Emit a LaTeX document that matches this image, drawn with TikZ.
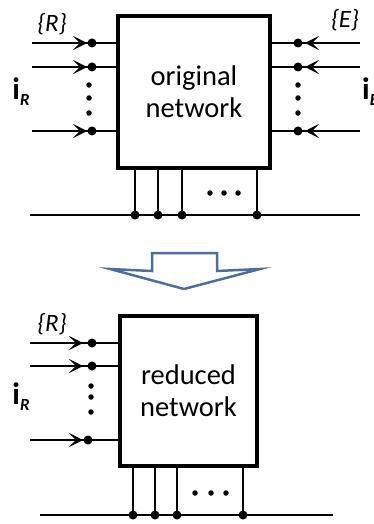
\documentclass[tikz,border=0pt]{standalone}
\usepackage{fontspec}
\setmainfont{Carlito}
\usetikzlibrary{arrows.meta}
\definecolor{arrowblue}{RGB}{74,111,160}
\tikzstyle{netbox} = [draw, line width=3.6pt, align=center, inner sep=0pt, font=\fontsize{28.5}{32}\selectfont]
\tikzstyle{junction} = [circle, minimum size=9pt, fill, inner sep=0pt]
\tikzstyle{vdot} = [circle, minimum size=5.5pt, fill, inner sep=0pt]
\tikzstyle{wire} = [line width=2.6pt]
\tikzstyle{flow} = [wire, -{Stealth[length=14pt,width=14pt,inset=7pt]}]
\tikzstyle{tag} = [inner sep=0pt, font=\fontsize{25}{28}\selectfont\itshape]
\tikzstyle{current} = [inner sep=0pt, font=\fontsize{31}{34}\selectfont\bfseries]
\newcommand{\curr}[1]{i\raisebox{-6pt}{\fontsize{17}{20}\selectfont\bfseries\itshape #1}}

\begin{document}
\begin{tikzpicture}[x=1pt, y=-1pt]
    \useasboundingbox (0,0) rectangle (373,524);
    % original network
    \node (orig) [netbox, minimum width=152pt, minimum height=152pt] at (194,92) {original\\network};
    \foreach \n/\y in {1/43, 2/67, 3/131} {
        \coordinate (rin\n) at (32,\y);
        \coordinate (ein\n) at (360,\y);
        \draw [wire] (rin\n) -- (rin\n -| orig.west);
        \draw [flow] (rin\n) -- ++(55,0);
        \node (rj\n) [junction] at (92,\y) {};
        \draw [wire] (ein\n) -- (ein\n -| orig.east);
        \draw [flow] (ein\n) -- ++(-55,0);
        \node (ej\n) [junction] at (298,\y) {};
    }
    \foreach \y in {85, 98, 113} {
        \node [vdot] at (89,\y) {};
        \node [vdot] at (298,\y) {};
    }
    \node (rset) [tag] at (52,24) {\{R\}};
    \node (eset) [tag] at (345,20) {\{E\}};
    \node (ir) [current] at (21,92) {\curr{R}};
    \node (ie) [current, anchor=west] at (362,92) {\curr{E}};
    \coordinate (busL) at (30,215);
    \coordinate (busR) at (360,215);
    \draw [wire] (busL) -- (busR);
    \foreach \n/\x in {1/135, 2/158, 3/182, 4/257} {
        \node (bj\n) [junction] at (\x,215) {};
        \draw [wire] (bj\n.center) -- (bj\n |- orig.south);
    }
    \foreach \x in {210, 224, 238}
        \node [vdot] at (\x,193) {};

    % reduction arrow
    \draw [arrowblue, line width=2.5pt, line join=miter]
        (152,253) -- (217,253) -- (217,271) -- (260,269) -- (184,289)
        -- (110,269) -- (152,271) -- cycle;

    % reduced network
    \node (red) [netbox, minimum width=137pt, minimum height=150pt] at (188.5,391) {reduced\\network};
    \foreach \n/\y/\x in {1/343/92, 2/366/92, 3/440/88} {
        \coordinate (sin\n) at (30,\y);
        \draw [wire] (sin\n) -- (sin\n -| red.west);
        \draw [flow] (sin\n) -- ++(53,0);
        \node (sj\n) [junction] at (\x,\y) {};
    }
    \foreach \y in {386, 397, 412}
        \node [vdot] at (91,\y) {};
    \node (sset) [tag] at (52,324) {\{R\}};
    \node (sr) [current] at (21,397) {\curr{R}};
    \coordinate (sbusL) at (40,515);
    \coordinate (sbusR) at (333,515);
    \draw [wire] (sbusL) -- (sbusR);
    \foreach \n/\x in {1/133, 2/155, 3/177, 4/243} {
        \node (sb\n) [junction] at (\x,515) {};
        \draw [wire] (sb\n.center) -- (sb\n |- red.south);
    }
    \foreach \x in {195, 211, 226}
        \node [vdot] at (\x,493) {};
\end{tikzpicture}
\end{document}
